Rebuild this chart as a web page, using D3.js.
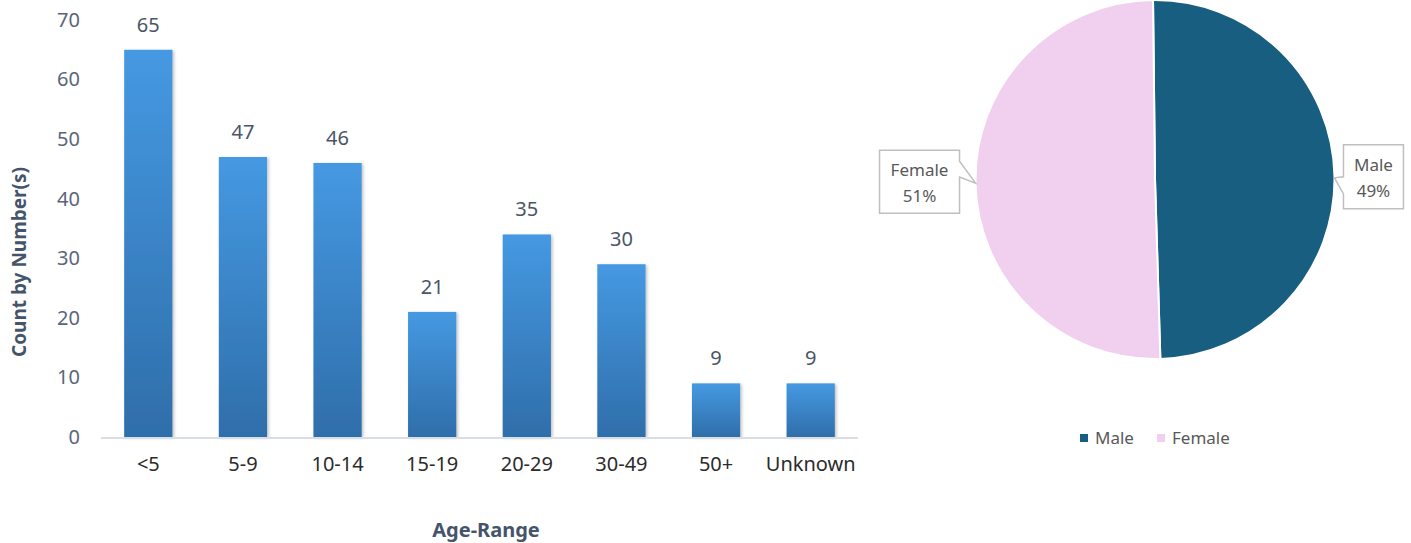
<!DOCTYPE html>
<html>
<head>
<meta charset="utf-8">
<script src="https://cdn.jsdelivr.net/npm/d3@7"></script>
<style>
  body { margin: 0; background: #fff; }
  svg { display: block; font-family: "Noto Sans", sans-serif; }
</style>
</head>
<body>
<svg id="chart" width="1411" height="543"></svg>
<script>
// bar chart data
const ageRanges = ["<5", "5-9", "10-14", "15-19", "20-29", "30-49", "50+", "Unknown"];
const barValues = [65, 47, 46, 21, 34, 29, 9, 9];
const barLabels = ["65", "47", "46", "21", "35", "30", "9", "9"];
const yTicks = [0, 10, 20, 30, 40, 50, 60, 70];

// pie data (drawn shares, labels as printed)
const genders = ["Male", "Female"];
const genderShares = [49.7, 50.3];
const genderLabels = ["49%", "51%"];
const genderColors = ["#175e80", "#f1cfee"];

const svg = d3.select('#chart');

// ---- bar chart ----
const x = d3.scaleBand()
  .domain(ageRanges)
  .range([101, 858])
  .paddingInner(0.49)
  .paddingOuter(0.245);

const y = d3.scaleLinear()
  .domain([0, 70])
  .range([437, 20]);

const defs = svg.append('defs');
const grad = defs.append('linearGradient')
  .attr('id', 'barGrad')
  .attr('x1', 0).attr('y1', 0)
  .attr('x2', 0).attr('y2', 1);
grad.append('stop').attr('offset', '0%').attr('stop-color', '#4599e2');
grad.append('stop').attr('offset', '100%').attr('stop-color', '#2f6eaa');

const shadow = defs.append('filter')
  .attr('id', 'barShadow')
  .attr('x', '-20%').attr('y', '-10%')
  .attr('width', '140%').attr('height', '120%');
shadow.append('feDropShadow')
  .attr('dx', 1.5).attr('dy', 1)
  .attr('stdDeviation', 1.5)
  .attr('flood-color', '#000')
  .attr('flood-opacity', 0.25);

const yAxis = svg.append('g')
  .attr('transform', 'translate(101,0)')
  .call(d3.axisLeft(y).tickValues(yTicks).tickSize(0).tickPadding(21));
yAxis.select('.domain').remove();
yAxis.selectAll('text')
  .attr('fill', '#5b6579')
  .style('font-size', '20px')
  .style('font-family', '"Noto Sans", sans-serif');

svg.append('g')
  .selectAll('rect')
  .data(barValues)
  .join('rect')
  .attr('x', (d, i) => x(ageRanges[i]))
  .attr('y', d => y(d))
  .attr('width', x.bandwidth())
  .attr('height', d => y(0) - y(d))
  .attr('fill', 'url(#barGrad)')
  .attr('filter', 'url(#barShadow)');

svg.append('line')
  .attr('x1', 101).attr('x2', 858)
  .attr('y1', y(0) + 1).attr('y2', y(0) + 1)
  .attr('stroke', '#d9dde4')
  .attr('stroke-width', 2);

svg.append('g')
  .selectAll('text')
  .data(barValues)
  .join('text')
  .attr('x', (d, i) => x(ageRanges[i]) + x.bandwidth() / 2)
  .attr('y', d => y(d) - 18)
  .attr('text-anchor', 'middle')
  .attr('fill', '#4a5568')
  .style('font-size', '20px')
  .text((d, i) => barLabels[i]);

const xAxis = svg.append('g')
  .attr('transform', 'translate(0,' + y(0) + ')')
  .call(d3.axisBottom(x).tickSize(0).tickPadding(20));
xAxis.select('.domain').remove();
xAxis.selectAll('text')
  .attr('fill', '#2b2b2b')
  .style('font-size', '20px')
  .style('font-family', '"Noto Sans", sans-serif');

svg.append('text')
  .attr('x', 486)
  .attr('y', 537)
  .attr('text-anchor', 'middle')
  .attr('fill', '#44546a')
  .style('font-size', '20px')
  .style('font-weight', 'bold')
  .text('Age-Range');

svg.append('text')
  .attr('transform', 'translate(26,262) rotate(-90)')
  .attr('text-anchor', 'middle')
  .attr('fill', '#44546a')
  .style('font-size', '19px')
  .style('font-weight', 'bold')
  .text('Count by Number(s)');

// ---- pie chart ----
const cx = 1155, cy = 179.5, r = 179.5;
const startOffset = -0.011;
const pie = d3.pie().sort(null).value(d => d)
  .startAngle(startOffset)
  .endAngle(2 * Math.PI + startOffset);
const arcs = pie(genderShares);
const arc = d3.arc().innerRadius(0).outerRadius(r);

const pieG = svg.append('g').attr('transform', 'translate(' + cx + ',' + cy + ')');
pieG.selectAll('path')
  .data(arcs)
  .join('path')
  .attr('d', arc)
  .attr('fill', (d, i) => genderColors[i])
  .attr('stroke', '#fff')
  .attr('stroke-width', 2);

// callout labels
const callouts = [
  {w: 60, h: 64, dx: 9, dy: -31, side: 'left'},
  {w: 80, h: 63, dx: -16, dy: -33, side: 'right'}
];

arcs.forEach(function (a, i) {
  const mid = (a.startAngle + a.endAngle) / 2;
  const tipX = cx + r * Math.sin(mid);
  const tipY = cy - r * Math.cos(mid);
  const c = callouts[i];
  let bx, by = tipY + c.dy;
  if (c.side === 'left') {
    bx = tipX + c.dx;
  } else {
    bx = tipX + c.dx - c.w;
  }
  let p;
  if (c.side === 'left') {
    p = 'M' + bx + ',' + by + 'H' + (bx + c.w) + 'V' + (by + c.h) + 'H' + bx +
      'V' + (tipY + 18) + 'L' + tipX + ',' + (tipY + 2) + 'L' + bx + ',' + (tipY + 1) + 'Z';
  } else {
    p = 'M' + bx + ',' + by + 'H' + (bx + c.w) + 'V' + (tipY - 22) +
      'L' + tipX + ',' + tipY + 'L' + (bx + c.w) + ',' + (tipY - 6) +
      'V' + (by + c.h) + 'H' + bx + 'Z';
  }
  svg.append('path')
    .attr('d', p)
    .attr('fill', '#fff')
    .attr('stroke', '#bfbfbf')
    .attr('stroke-width', 1.5);
  const tx = bx + c.w / 2;
  svg.append('text')
    .attr('x', tx).attr('y', by + 26)
    .attr('text-anchor', 'middle')
    .attr('fill', '#595959')
    .style('font-size', '17px')
    .text(genders[i]);
  svg.append('text')
    .attr('x', tx).attr('y', by + 52)
    .attr('text-anchor', 'middle')
    .attr('fill', '#595959')
    .style('font-size', '17px')
    .text(genderLabels[i]);
});

// legend
const legendX = [1080, 1157];
const legend = svg.append('g');
genders.forEach(function (g, i) {
  legend.append('rect')
    .attr('x', legendX[i]).attr('y', 434)
    .attr('width', 8).attr('height', 8)
    .attr('fill', genderColors[i]);
  legend.append('text')
    .attr('x', legendX[i] + 15).attr('y', 444)
    .attr('fill', '#595959')
    .style('font-size', '17px')
    .text(g);
});
</script>
</body>
</html>
